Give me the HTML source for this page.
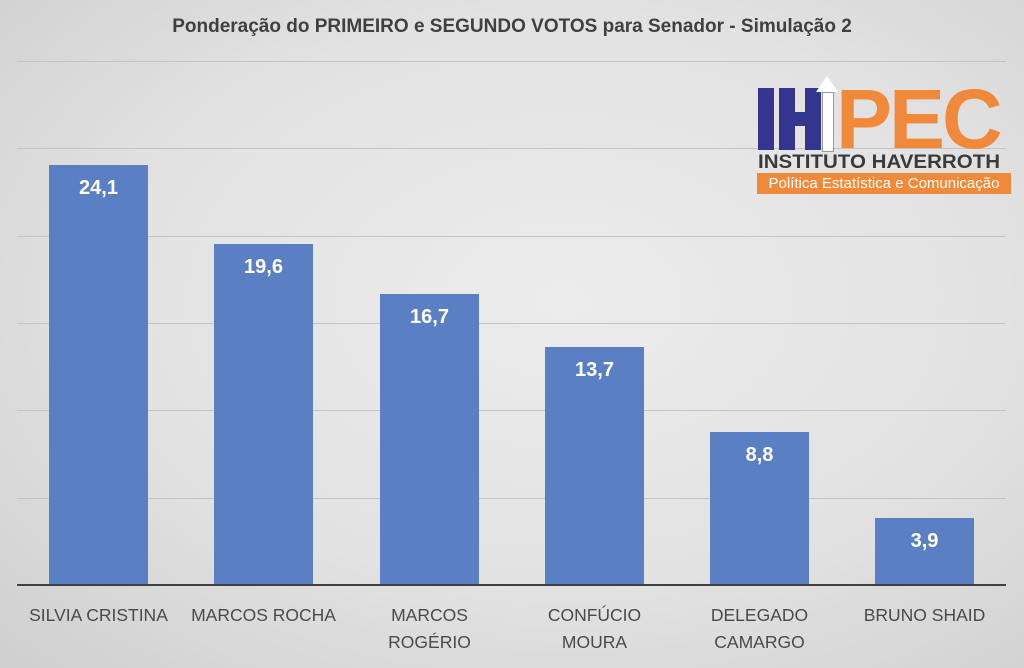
<!DOCTYPE html>
<html><head><meta charset="utf-8"><style>
body{margin:0;width:1024px;height:668px;overflow:hidden;font-family:"Liberation Sans",sans-serif;}
#c{position:relative;width:1024px;height:668px;background:radial-gradient(ellipse at 55% 45%,#ececec 0%,#e2e2e2 55%,#cfcfcf 100%);}
.g{position:absolute;left:17px;width:989px;height:1px;background:#c4c4c4;}
.b{position:absolute;width:99px;background:#5a80c3;}
.v{position:absolute;width:99px;text-align:center;color:#fff;font-weight:bold;font-size:20px;}
.l{position:absolute;width:165px;text-align:center;color:#4a4a4a;font-size:17.5px;line-height:27px;}
</style></head><body><div id="c">
<div style="position:absolute;top:16px;left:0;width:1024px;text-align:center;font-size:19px;font-weight:bold;color:#404040">Ponderação do PRIMEIRO e SEGUNDO VOTOS para Senador - Simulação 2</div>
<div class="g" style="top:61px"></div><div class="g" style="top:148px"></div><div class="g" style="top:236px"></div><div class="g" style="top:323px"></div><div class="g" style="top:410px"></div><div class="g" style="top:498px"></div>
<div class="b" style="left:49px;top:165px;height:420px"></div><div class="v" style="left:49px;top:177px">24,1</div>
<div class="b" style="left:214px;top:244px;height:341px"></div><div class="v" style="left:214px;top:256px">19,6</div>
<div class="b" style="left:380px;top:294px;height:291px"></div><div class="v" style="left:380px;top:306px">16,7</div>
<div class="b" style="left:545px;top:347px;height:238px"></div><div class="v" style="left:545px;top:359px">13,7</div>
<div class="b" style="left:710px;top:432px;height:153px"></div><div class="v" style="left:710px;top:444px">8,8</div>
<div class="b" style="left:875px;top:518px;height:67px"></div><div class="v" style="left:875px;top:530px">3,9</div>
<div style="position:absolute;left:17px;top:584px;width:989px;height:2px;background:#404040"></div>
<div class="l" style="left:16px;top:602px">SILVIA CRISTINA</div>
<div class="l" style="left:181px;top:602px">MARCOS ROCHA</div>
<div class="l" style="left:347px;top:602px">MARCOS<br>ROGÉRIO</div>
<div class="l" style="left:512px;top:602px">CONFÚCIO<br>MOURA</div>
<div class="l" style="left:677px;top:602px">DELEGADO<br>CAMARGO</div>
<div class="l" style="left:842px;top:602px">BRUNO SHAID</div>
<div style="position:absolute;left:758px;top:88px;width:16px;height:62px;background:#33358f"></div>
<div style="position:absolute;left:779px;top:88px;width:16px;height:62px;background:#33358f"></div>
<div style="position:absolute;left:795px;top:112px;width:10px;height:14px;background:#33358f"></div>
<div style="position:absolute;left:805px;top:88px;width:16px;height:62px;background:#33358f"></div>
<div style="position:absolute;left:822px;top:92px;width:10px;height:58px;background:#fff;border:1px solid #999"></div>
<div style="position:absolute;left:816px;top:76px;width:0;height:0;border-left:11px solid transparent;border-right:11px solid transparent;border-bottom:16px solid #fff"></div>
<div style="position:absolute;left:836px;top:79px;font-size:84px;font-weight:bold;color:#f08a3a;line-height:80px;letter-spacing:-3px">PEC</div>
<div style="position:absolute;left:758px;top:152px;font-size:19px;font-weight:bold;color:#3a3a3a;transform:scaleX(1.08);transform-origin:left top">INSTITUTO HAVERROTH</div>
<div style="position:absolute;left:757px;top:173px;width:254px;height:21px;background:#f08a3a;color:#fff;font-size:15px;line-height:21px;text-align:center">Política Estatística e Comunicação</div>
</div></body></html>
